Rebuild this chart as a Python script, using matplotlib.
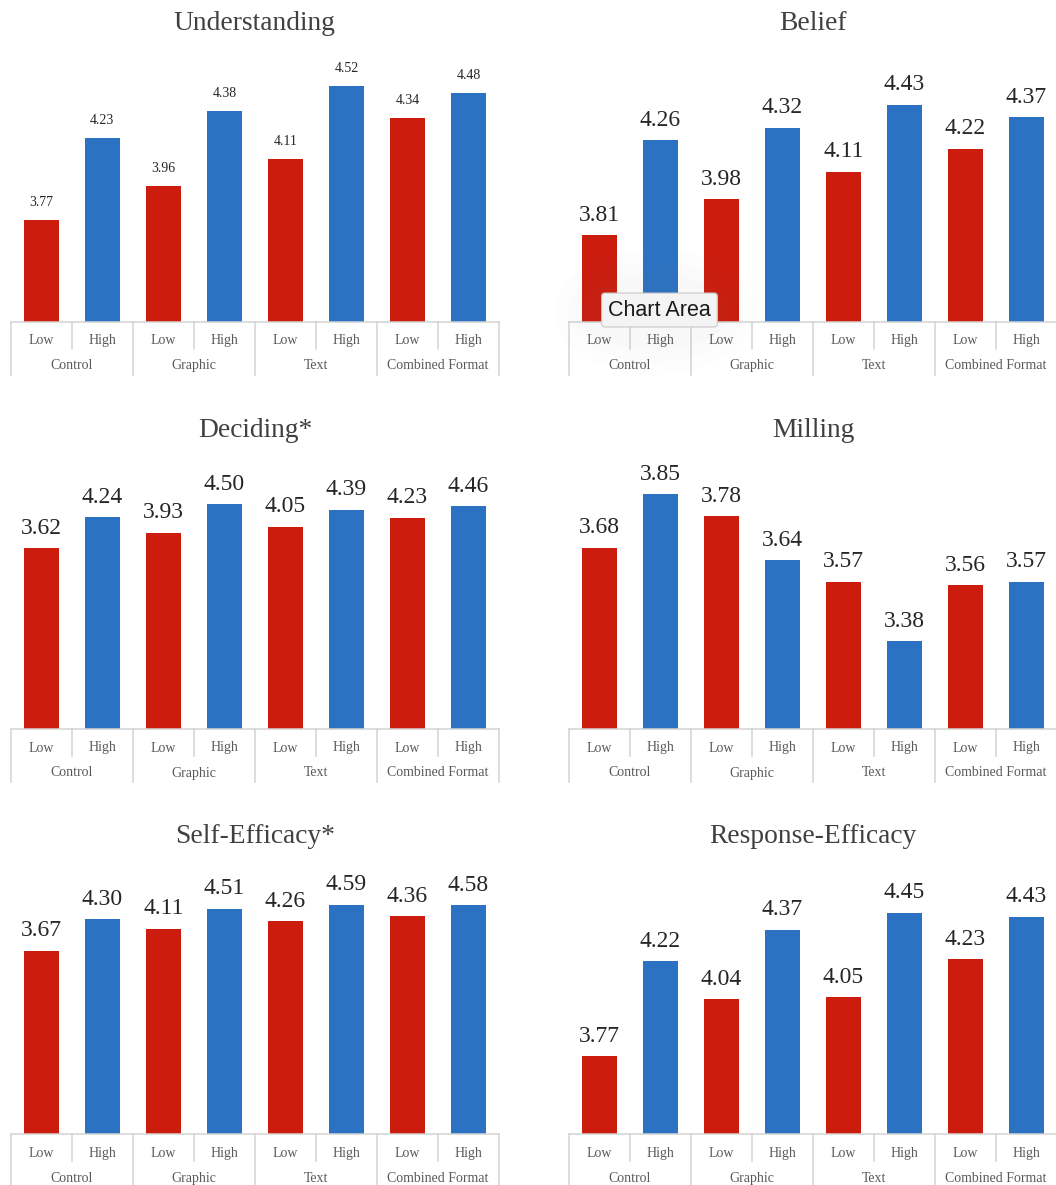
import matplotlib
matplotlib.use("Agg")
import matplotlib.pyplot as plt
from matplotlib.patches import Ellipse
import numpy as np

# ---------------- data ----------------
groups = ["Control", "Graphic", "Text", "Combined Format"]
levels = ["Low", "High"]

titles = ["Understanding", "Belief", "Deciding*", "Milling", "Self-Efficacy*", "Response-Efficacy"]

understanding = [3.77, 4.23, 3.96, 4.38, 4.11, 4.52, 4.34, 4.48]
belief = [3.81, 4.26, 3.98, 4.32, 4.11, 4.43, 4.22, 4.37]
deciding = [3.62, 4.24, 3.93, 4.50, 4.05, 4.39, 4.23, 4.46]
milling = [3.68, 3.85, 3.78, 3.64, 3.57, 3.38, 3.56, 3.57]
self_efficacy = [3.67, 4.30, 4.11, 4.51, 4.26, 4.59, 4.36, 4.58]
response_efficacy = [3.77, 4.22, 4.04, 4.37, 4.05, 4.45, 4.23, 4.43]

series = [understanding, belief, deciding, milling, self_efficacy, response_efficacy]

# axis ranges (value at baseline, value at top of plot area)
ylims = [(3.2, 4.748), (3.4, 4.713), (0.0, 5.59), (3.1, 3.992), (0.0, 5.49), (3.4, 4.70)]
label_sizes = [10, 17, 17, 17, 17, 17]

# ---------------- style ----------------
W, H = 1056, 1185
RED = "#CB1C0E"
BLUE = "#2B72C3"
GRID = "#D3D3D3"
TICK = "#595959"
TITLE_C = "#404040"
LABEL_C = "#262626"
SERIF = ["Liberation Serif", "DejaVu Serif"]

fig = plt.figure(figsize=(W / 100, H / 100), dpi=100)
fig.patch.set_facecolor("white")

col_x = [(10.7, 499.0), (569.0, 1057.0)]
row_base = [321.5, 729.0, 1134.3]
row_top = [45.0, 450.0, 860.0]
title_base = [29.5, 437.0, 843.0]


def px_axes(x0, x1, ytop, ybot):
    return fig.add_axes([x0 / W, 1 - ybot / H, (x1 - x0) / W, (ybot - ytop) / H])


n = len(groups) * len(levels)
xpos = np.arange(n)

for i, (title, vals, ylim, lsz) in enumerate(zip(titles, series, ylims, label_sizes)):
    r, c = divmod(i, 2)
    x0, x1 = col_x[c]
    base, top = row_base[r], row_top[r]
    ax = px_axes(x0, x1, top, base)
    ax.set_xlim(-0.5, n - 0.5)
    ax.set_ylim(*ylim)
    colors = [RED if k % 2 == 0 else BLUE for k in range(n)]
    bars = ax.bar(xpos, np.array(vals) - ylim[0], bottom=ylim[0], width=0.57,
                  color=colors, edgecolor="none", zorder=2)
    for b, v in zip(bars, vals):
        ax.annotate(f"{v:.2f}", (b.get_x() + b.get_width() / 2, v),
                    xytext=(0, 10.5 if lsz > 12 else 10), textcoords="offset points",
                    ha="center", va="baseline", fontsize=lsz, color=LABEL_C,
                    family=SERIF)
    for s in ax.spines.values():
        s.set_visible(False)
    ax.set_xticks([])
    ax.set_yticks([])
    ax.patch.set_alpha(0)

    # category axis drawn in pixel geometry
    h_px = base - top
    def fy(px):  # pixels below the baseline -> axes fraction
        return -px / h_px
    trans = ax.get_xaxis_transform()
    ax.plot([-0.5, n - 0.5], [0, 0], color=GRID, lw=1.1, transform=trans,
            clip_on=False, zorder=3)
    for g in range(len(groups) + 1):
        xg = -0.5 + 2 * g
        ax.plot([xg, xg], [0, fy(53)], color=GRID, lw=1.1, transform=trans, clip_on=False)
    for g in range(len(groups)):
        xs = 0.5 + 2 * g
        ax.plot([xs, xs], [0, fy(27)], color=GRID, lw=1.1, transform=trans, clip_on=False)
        ax.text(2 * g + 0.5, fy(47.5), groups[g], transform=trans, ha="center",
                va="baseline", fontsize=10, color=TICK, family=SERIF)
    for k in range(n):
        ax.text(k, fy(22.5), levels[k % 2], transform=trans, ha="center",
                va="baseline", fontsize=10, color=TICK, family=SERIF)

    fig.text(((x0 + x1) / 2) / W, 1 - title_base[r] / H, title, ha="center",
             va="baseline", fontsize=19.8, color=TITLE_C, family=SERIF)

# "Chart Area" hover tooltip seen in the Belief panel
for k, (w, h, a) in enumerate([(200, 125, 0.012), (175, 100, 0.015), (150, 75, 0.02)]):
    fig.patches.append(Ellipse((655 / W, 1 - 312 / H), w / W, h / H, transform=fig.transFigure,
                               facecolor="#888888", edgecolor="none", alpha=a, zorder=5))
fig.text(659.5 / W, 1 - 310 / H, "Chart Area", ha="center", va="center", fontsize=15.5,
         color="#1a1a1a", family=["Liberation Sans", "DejaVu Sans"], zorder=10,
         bbox=dict(boxstyle="round,pad=0.3,rounding_size=0.15", facecolor="#F4F4F4",
                   edgecolor="#C8C8C8", linewidth=0.8))

fig.savefig("out.png", dpi=100)
